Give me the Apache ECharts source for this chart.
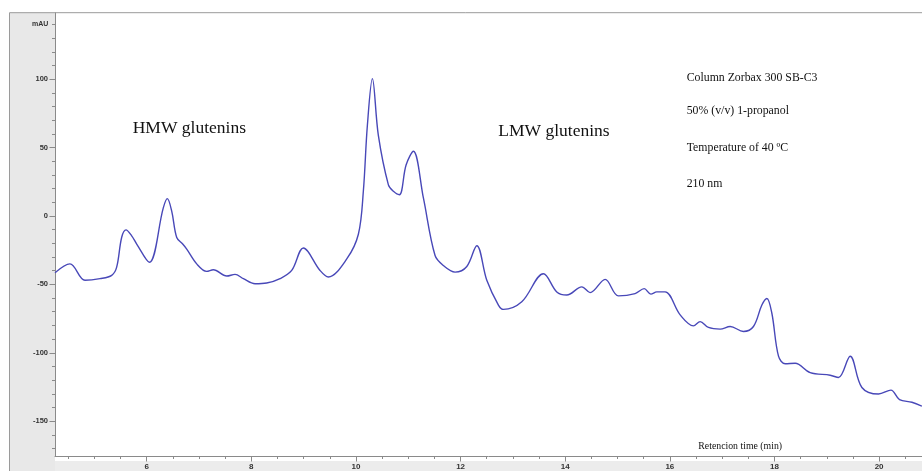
<!DOCTYPE html>
<html>
<head>
<meta charset="utf-8">
<script src="https://cdn.jsdelivr.net/npm/echarts@6/dist/echarts.min.js"></script>
<style>html,body{margin:0;padding:0;background:#fff;}#c{width:922px;height:471px;}</style>
</head>
<body>
<div id="c"></div>
<script>
// Retention time (min)
const retentionTime = [4.247,4.533,4.82,5.107,5.331,5.426,5.522,5.604,5.713,5.809,6.05,6.317,6.394,6.478,6.574,6.688,6.765,6.956,7.147,7.273,7.53,7.688,7.847,8.071,8.294,8.549,8.772,8.994,9.313,9.472,9.824,10.046,10.141,10.218,10.314,10.428,10.62,10.716,10.83,10.958,11.098,11.289,11.512,11.671,11.895,12.119,12.31,12.501,12.723,12.818,13.17,13.583,13.839,14.03,14.317,14.476,14.763,15.017,15.336,15.509,15.637,15.751,15.91,16.197,16.451,16.579,16.738,16.961,17.153,17.407,17.598,17.759,17.855,17.95,18.077,18.205,18.396,18.683,19.065,19.224,19.447,19.671,19.989,20.226,20.39,20.627,20.818];
// Absorbance (mAU)
const absorbance = [-41.5,-35.0,-47.0,-45.8,-43.4,-37.4,-15.5,-10.1,-14.5,-20.5,-33.8,6.0,12.7,3.6,-15.7,-20.5,-24.2,-35.0,-40.5,-39.3,-43.9,-42.7,-45.8,-49.5,-49.0,-45.8,-39.8,-23.4,-39.8,-44.6,-31.4,-13.3,18.1,66.2,100.5,59.0,22.8,18.1,15.6,37.3,47.4,13.2,-28.9,-36.2,-41.0,-36.9,-21.7,-47.0,-65.1,-68.3,-62.7,-42.2,-55.5,-57.8,-51.8,-56.0,-46.3,-58.4,-56.7,-53.1,-57.1,-55.5,-55.5,-72.3,-80.3,-77.2,-81.5,-82.7,-80.8,-84.4,-80.8,-65.1,-60.3,-71.1,-102.5,-108.0,-107.7,-114.5,-116.4,-118.1,-102.5,-125.4,-130.2,-127.3,-134.3,-136.2,-139.1];
const xMajorTicks = [6,8,10,12,14,16,18,20];
const xMinorTicks = [4.5,5,5.5,6.5,7,7.5,8.5,9,9.5,10.5,11,11.5,12.5,13,13.5,14.5,15,15.5,16.5,17,17.5,18.5,19,19.5,20.5];
const yMajorTicks = [-150,-100,-50,0,50,100];
const yMinorTicks = [-170,-160,-140,-130,-120,-110,-90,-80,-70,-60,-40,-30,-20,-10,10,20,30,40,60,70,80,90,110,120,130,140];
const annotations = {
  hmw: 'HMW glutenins',
  lmw: 'LMW glutenins',
  info: ['Column Zorbax 300 SB-C3','50% (v/v) 1-propanol','Temperature of 40 \u00baC','210 nm'],
  xTitle: 'Retencion time (min)',
  yUnit: 'mAU'
};

const seriesData = retentionTime.map((t, i) => [t, absorbance[i]]);
const chart = echarts.init(document.getElementById('c'), null, {renderer: 'canvas'});
const X_MIN = 4.247, X_MAX = 20.82, Y_MIN = -175.5, Y_MAX = 148.7;
const axisGray = '#8a8a8a';
const labelFont = {fontFamily: 'Liberation Sans', fontSize: 7.5, color: '#333', fontWeight: 'bold'};
const serif = 'Liberation Serif';

chart.setOption({
  animation: false,
  backgroundColor: '#fff',
  grid: {left: 55, top: 12.7, right: 0, bottom: 10, containLabel: false},
  xAxis: [
    {type: 'value', min: X_MIN, max: X_MAX, position: 'bottom',
     axisLine: {show: true, onZero: false, lineStyle: {color: axisGray, width: 1}},
     axisTick: {show: true, length: 5.5, inside: false, customValues: xMajorTicks, lineStyle: {color: axisGray}},
     axisLabel: {show: true, margin: 7, customValues: xMajorTicks, ...labelFont, fontSize: 8},
     splitLine: {show: false}},
    {type: 'value', min: X_MIN, max: X_MAX, position: 'bottom',
     axisLine: {show: false, onZero: false},
     axisTick: {show: true, length: 3, customValues: xMinorTicks, lineStyle: {color: axisGray}},
     axisLabel: {show: false},
     splitLine: {show: false}}
  ],
  yAxis: [
    {type: 'value', min: Y_MIN, max: Y_MAX, position: 'left',
     axisLine: {show: true, onZero: false, lineStyle: {color: axisGray, width: 1}},
     axisTick: {show: true, length: 5.5, customValues: yMajorTicks, lineStyle: {color: axisGray}},
     axisLabel: {show: true, margin: 7, customValues: yMajorTicks, ...labelFont},
     splitLine: {show: false}},
    {type: 'value', min: Y_MIN, max: Y_MAX, position: 'left',
     axisLine: {show: false, onZero: false},
     axisTick: {show: true, length: 3, customValues: yMinorTicks, lineStyle: {color: axisGray}},
     axisLabel: {show: false},
     splitLine: {show: false}}
  ],
  graphic: [
    {type: 'rect', z: -10, silent: true, shape: {x: 9.5, y: 12.7, width: 45.5, height: 460}, style: {fill: '#e8e8e8'}},
    {type: 'rect', z: -10, silent: true, shape: {x: 55, y: 461, width: 870, height: 12}, style: {fill: '#ececec'}},
    {type: 'line', z: 5, silent: true, shape: {x1: 9.5, y1: 12.7, x2: 922, y2: 12.7}, style: {stroke: '#9a9a9a', lineWidth: 1}},
    {type: 'line', z: 5, silent: true, shape: {x1: 9.5, y1: 12.7, x2: 9.5, y2: 471}, style: {stroke: '#9a9a9a', lineWidth: 1}},
    {type: 'text', z: 10, style: {text: annotations.yUnit, x: 48.3, y: 20.7, textAlign: 'right', textBaseline: 'alphabetic', font: 'bold 7px Liberation Sans', fill: '#333'}},
    {type: 'text', z: 10, style: {text: annotations.hmw, x: 132.7, y: 119, textBaseline: 'alphabetic', font: '17.5px ' + serif, fill: '#111'}},
    {type: 'text', z: 10, style: {text: annotations.lmw, x: 498.3, y: 122.3, textBaseline: 'alphabetic', font: '17.5px ' + serif, fill: '#111'}},
    ...annotations.info.map((t, i) => ({type: 'text', z: 10, style: {text: t, x: 686.7, y: [72.3, 105, 141.7, 178.3][i], textBaseline: 'alphabetic', font: '11.8px ' + serif, fill: '#111'}})),
    {type: 'text', z: 10, style: {text: annotations.xTitle, x: 698.3, y: 441.7, textBaseline: 'alphabetic', font: '9.8px ' + serif, fill: '#111'}}
  ],
  series: [{
    type: 'line', data: seriesData, xAxisIndex: 0, yAxisIndex: 0,
    smooth: 0.35, showSymbol: false, symbol: 'none',
    lineStyle: {color: '#4848b8', width: 1.4},
    clip: true
  }]
});
</script>
</body>
</html>
